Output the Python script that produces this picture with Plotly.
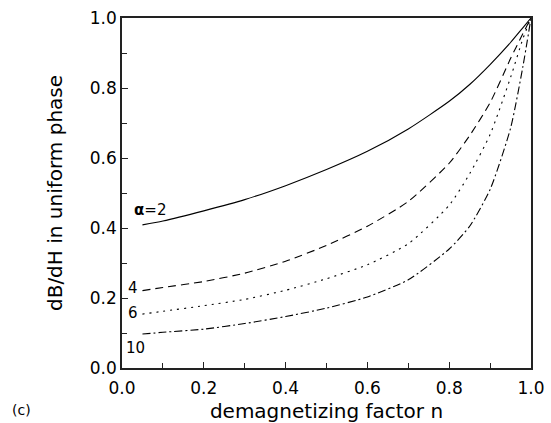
import plotly.graph_objects as go

n_vals = [0.05, 0.1, 0.2, 0.3, 0.4, 0.5, 0.6, 0.7, 0.8, 0.85, 0.9, 0.95, 0.98, 1.0]
a2 = [0.409, 0.42, 0.449, 0.481, 0.521, 0.567, 0.619, 0.683, 0.762, 0.81, 0.867, 0.93, 0.972, 1.0]
a4 = [0.221, 0.23, 0.247, 0.271, 0.305, 0.35, 0.405, 0.476, 0.585, 0.664, 0.758, 0.884, 0.955, 1.0]
a6 = [0.154, 0.162, 0.178, 0.196, 0.222, 0.255, 0.295, 0.355, 0.465, 0.555, 0.667, 0.83, 0.94, 1.0]
a10 = [0.097, 0.102, 0.111, 0.127, 0.147, 0.171, 0.203, 0.252, 0.34, 0.405, 0.51, 0.685, 0.86, 1.0]

series = [
    ("α=2", a2, "solid"),
    ("α=4", a4, "8px,5px"),
    ("α=6", a6, "2px,5px"),
    ("α=10", a10, "8px,3px,2px,3px"),
]

labels = [
    ("<b>α</b>=2", 0.069, 0.452),
    ("4", 0.027, 0.23),
    ("6", 0.027, 0.158),
    ("10", 0.034, 0.058),
]

font_family = "DejaVu Sans"

fig = go.Figure()
for name, ys, dash in series:
    fig.add_trace(go.Scatter(
        x=n_vals, y=ys, mode="lines", name=name,
        line=dict(color="black", width=1.1, dash=dash, shape="spline", smoothing=0.6),
        showlegend=False,
    ))

for text, x, y in labels:
    fig.add_annotation(x=x, y=y, xref="x", yref="y", text=text, showarrow=False,
                       font=dict(family=font_family, size=15, color="black"))

fig.add_annotation(x=-0.274, y=-0.12, xref="paper", yref="paper", text="(c)",
                   showarrow=False, xanchor="left", yanchor="middle",
                   font=dict(family=font_family, size=14, color="black"))

axis_common = dict(
    range=[0, 1], showgrid=False, zeroline=False, automargin=False,
    showline=True, linecolor="#222", linewidth=1.5, mirror=True,
    ticks="inside", ticklen=6, tickwidth=1, tickcolor="#222",
    dtick=0.2, tick0=0, tickformat=".1f",
    tickfont=dict(family=font_family, size=17, color="black"),
    minor=dict(ticks="inside", ticklen=5, dtick=0.1, tickcolor="#222", tickwidth=1),
)

fig.update_layout(
    width=551, height=423,
    margin=dict(l=122, r=20, t=18, b=55, autoexpand=False),
    paper_bgcolor="white", plot_bgcolor="white",
    xaxis=dict(**axis_common, ticklabelstandoff=4,
               title=dict(text="demagnetizing factor n",
                          font=dict(family=font_family, size=20, color="black"), standoff=12)),
    yaxis=dict(**axis_common,
               title=dict(text="dB/dH in uniform phase",
                          font=dict(family=font_family, size=20, color="black"), standoff=22)),
)

fig.write_html("out.html")
